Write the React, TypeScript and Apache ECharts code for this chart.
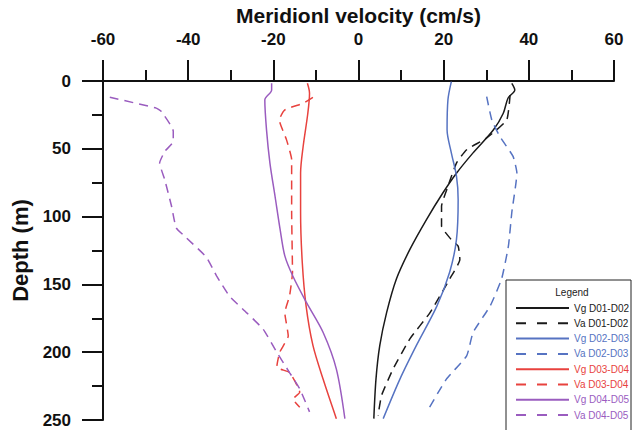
import React, { useEffect, useRef } from "react";
import * as echarts from "echarts";

// [velocity (cm/s), depth (m)]
const vgD01D02: number[][] = [
  [36.0, 1.7], [36.7, 6.6], [35.1, 12.7], [34.0, 23.8], [31.7, 36], [26.9, 53], [23.0, 68],
  [19.8, 82.6], [16.0, 102], [12.1, 124], [8.9, 146], [6.6, 170.8], [5.0, 195], [4.1, 220], [3.6, 249],
];
const vaD01D02: number[][] = [
  [35.6, 10.3], [34.8, 28.7], [30.1, 42], [25.4, 50.7], [23.0, 60.5], [21.0, 77.7], [19.5, 92.4],
  [19.5, 107], [21.8, 117], [23.4, 121.8], [23.8, 131.6], [21.4, 146], [16.8, 170.8], [12.1, 190],
  [8.1, 212.5], [5.4, 232], [4.6, 246.8],
];
const vgD02D03: number[][] = [
  [21.8, 0.5], [21.0, 14], [20.8, 36], [21.8, 53], [23.0, 70], [23.4, 87.5], [23.0, 117],
  [21.4, 141], [18.4, 166], [13.6, 195], [9.7, 220], [5.8, 249],
];
const vaD02D03: number[][] = [
  [30.1, 11.5], [31.3, 28.7], [33.2, 41], [36.3, 55.6], [37.2, 68], [36.0, 97], [35.2, 121.8],
  [33.6, 146], [30.9, 166], [26.9, 185.5], [25.4, 202.7], [20.6, 220], [16.0, 244.3],
];
const vgD03D04: number[][] = [
  [-12.0, 1.7], [-11.5, 9], [-11.9, 23.8], [-13.0, 48.3], [-13.6, 67.9], [-13.6, 97], [-13.2, 134],
  [-12.3, 166], [-10.7, 195], [-8.3, 220], [-5.2, 249],
];
const vaD03D04: number[][] = [
  [-10.7, 12], [-13.0, 16.4], [-17.3, 21.3], [-18.6, 28.7], [-16.9, 43.4], [-15.7, 58], [-15.7, 97],
  [-15.5, 141], [-16.2, 158.6], [-17.3, 170.8], [-16.5, 188], [-18.5, 200], [-19.2, 211],
  [-16.2, 215], [-13.8, 229.6], [-15.4, 234.6], [-13.8, 240.6],
];
const vgD04D05: number[][] = [
  [-20.4, 1.7], [-20.4, 6.6], [-22.0, 14], [-21.6, 36], [-20.8, 60.5], [-19.6, 85], [-18.4, 109.6],
  [-17.3, 129], [-15.4, 144], [-12.2, 163.5], [-8.3, 185.5], [-5.2, 212.5], [-3.2, 249],
];
const vaD04D05: number[][] = [
  [-58.4, 12], [-47.5, 20], [-46.3, 22.5], [-43.5, 37], [-43.5, 44.6], [-45.5, 52], [-46.7, 60.5],
  [-45.5, 72.8], [-43.9, 92.4], [-42.8, 108.3], [-40.4, 115.7], [-35.7, 130], [-33.3, 143.9],
  [-30.3, 158.6], [-26.3, 170.8], [-22.4, 183], [-19.2, 200], [-16.2, 215], [-13.8, 227], [-11.5, 244],
];

const seriesNames = [
  "Vg D01-D02", "Va D01-D02", "Vg D02-D03", "Va D02-D03",
  "Vg D03-D04", "Va D03-D04", "Vg D04-D05", "Va D04-D05",
];
const seriesData = [vgD01D02, vaD01D02, vgD02D03, vaD02D03, vgD03D04, vaD03D04, vgD04D05, vaD04D05];
const seriesColors = ["#1a1a1a", "#1a1a1a", "#5673c2", "#5673c2", "#e8423e", "#e8423e", "#9a5cbf", "#9a5cbf"];
const seriesDashed = [false, true, false, true, false, true, false, true];

const xTicks = { min: -60, max: 60, interval: 20 };
const yTicks = { min: 0, max: 250, interval: 50 };

const FONT = "'Liberation Sans', Arial, sans-serif";

export default function App() {
  const ref = useRef<HTMLDivElement>(null);
  useEffect(() => {
    if (!ref.current) return;
    const chart = echarts.init(ref.current, null, { renderer: "svg" });
    const option: any = {
      animation: false,
      backgroundColor: "#ffffff",
      textStyle: { fontFamily: FONT },
      grid: { left: 103, right: 21, top: 81, bottom: 10, containLabel: false },
      xAxis: {
        type: "value",
        position: "top",
        min: xTicks.min,
        max: xTicks.max,
        interval: xTicks.interval,
        name: "Meridionl velocity (cm/s)",
        nameLocation: "middle",
        nameGap: 46,
        nameTextStyle: { fontFamily: FONT, fontWeight: "bold", fontSize: 21, color: "#111" },
        axisLine: { show: true, onZero: false, lineStyle: { color: "#111", width: 2 } },
        axisTick: { show: true, inside: false, length: 21, lineStyle: { color: "#111", width: 2 } },
        minorTick: { show: true, splitNumber: 2, length: 11, lineStyle: { color: "#111", width: 2 } },
        axisLabel: { fontFamily: FONT, fontWeight: "bold", fontSize: 17, color: "#111", margin: 33 },
        splitLine: { show: false },
      },
      yAxis: {
        type: "value",
        inverse: true,
        min: yTicks.min,
        max: yTicks.max,
        interval: yTicks.interval,
        name: "Depth (m)",
        nameLocation: "middle",
        nameGap: 68,
        nameRotate: 90,
        nameTextStyle: { fontFamily: FONT, fontWeight: "bold", fontSize: 22, color: "#111" },
        axisLine: { show: true, onZero: false, lineStyle: { color: "#111", width: 2 } },
        axisTick: { show: true, inside: false, length: 21, lineStyle: { color: "#111", width: 2 } },
        minorTick: { show: true, splitNumber: 2, length: 11, lineStyle: { color: "#111", width: 2 } },
        axisLabel: { fontFamily: FONT, fontWeight: "bold", fontSize: 17, color: "#111", margin: 32 },
        splitLine: { show: false },
      },
      legend: {
        orient: "vertical",
        left: 515,
        top: 302,
        z: 100,
        itemWidth: 53,
        itemHeight: 12,
        itemGap: 3.3,
        padding: 0,
        selectedMode: false,
        itemStyle: { opacity: 0 },
        textStyle: { fontFamily: FONT, fontSize: 10, lineHeight: 12 },
        data: seriesNames.map((n, i) => ({
          name: n,
          textStyle: { color: seriesColors[i] },
          lineStyle: seriesDashed[i] ? { type: [10, 11] } : undefined,
        })),
      },
      graphic: [
        {
          type: "rect",
          shape: { x: 506, y: 280, width: 125, height: 160 },
          style: { fill: "#fff", stroke: "#222", lineWidth: 1 },
          z: 50,
          silent: true,
        },
        {
          type: "text",
          x: 572,
          y: 292,
          style: { text: "Legend", fontFamily: FONT, fontSize: 10, fill: "#222", align: "center", verticalAlign: "middle" },
          z: 101,
          silent: true,
        },
      ],
      series: seriesNames.map((n, i) => ({
        name: n,
        type: "line",
        data: seriesData[i],
        symbol: "none",
        smooth: seriesDashed[i] ? 0.15 : 0.3,
        z: 2,
        lineStyle: {
          color: seriesColors[i],
          width: 1.5,
          type: seriesDashed[i] ? [9, 6] : "solid",
        },
        itemStyle: { color: seriesColors[i] },
      })),
    };
    chart.setOption(option);
    return () => chart.dispose();
  }, []);
  return <div ref={ref} style={{ width: 635, height: 430, position: "absolute", left: 0, top: 0 }} />;
}
